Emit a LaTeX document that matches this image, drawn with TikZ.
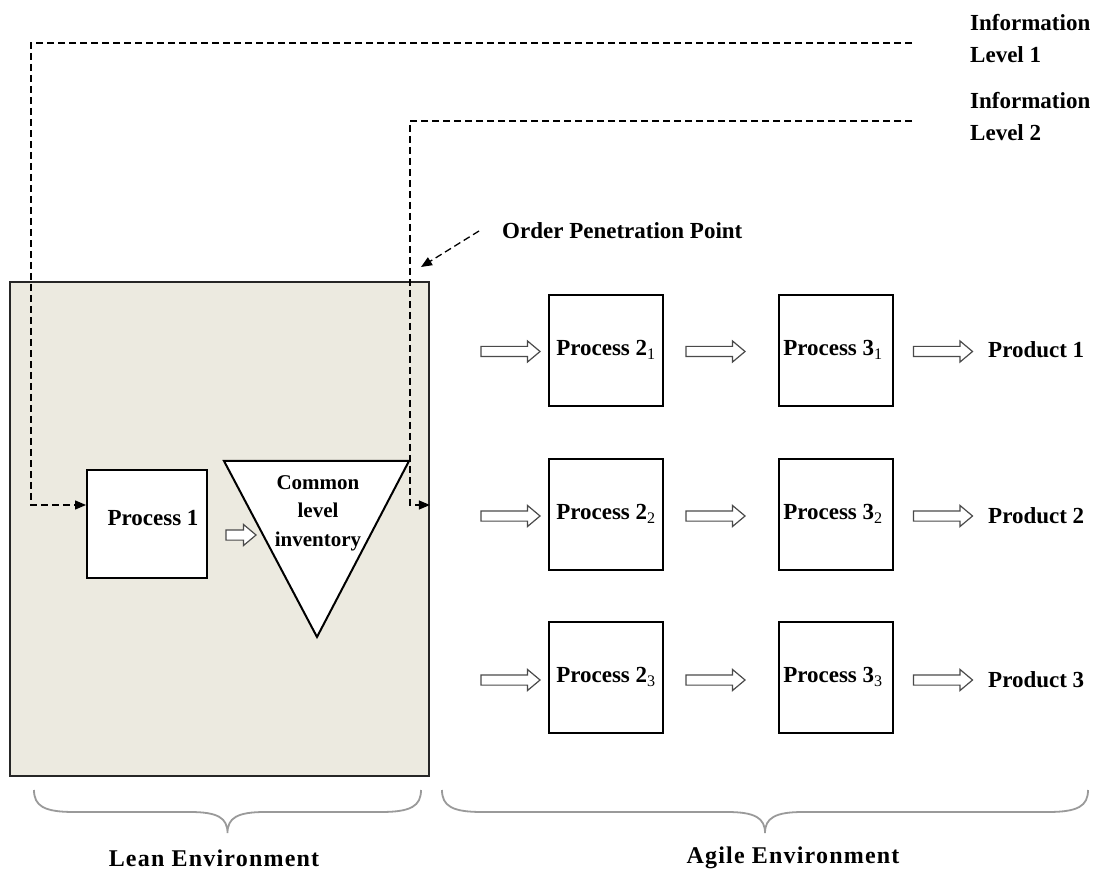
\documentclass[tikz,border=0pt]{standalone}
\usepackage{fontspec}
\setmainfont{Liberation Serif}
\newfontfamily\envfamily[LetterSpace=5]{Liberation Serif}
\usetikzlibrary{shapes.arrows,arrows.meta,calc}
\definecolor{leanfill}{HTML}{ECEAE0}
\definecolor{bracegray}{HTML}{9A9A9A}
\definecolor{arrowgray}{HTML}{4A4A4A}
\newcommand{\lblfont}{\fontsize{23}{32}\selectfont\bfseries}
\newcommand{\invfont}{\fontsize{21}{28.5}\selectfont\bfseries}
\newcommand{\envfont}{\envfamily\fontsize{24}{28}\selectfont\bfseries}
\newcommand{\sbs}[1]{\textsubscript{\mdseries #1}}
\tikzset{
  leanbox/.style={draw=black!85, fill=leanfill, line width=1.8pt, minimum width=419pt, minimum height=494pt, inner sep=0pt},
  procbox/.style={draw=black, fill=white, line width=2pt, minimum width=114pt, minimum height=111pt, inner sep=0pt, font=\lblfont},
  txt/.style={font=\lblfont, inner sep=2pt, align=left},
  infoline/.style={draw=black, line width=1.3pt, dash pattern=on 7pt off 4pt, -{Triangle[length=11pt,width=9pt]}},
  blockarrow/.style={single arrow, draw=arrowgray, fill=white, line width=1.2pt, inner xsep=0pt, inner ysep=4.5pt, single arrow head extend=5.5pt, single arrow tip angle=80, minimum height=59pt},
  bracestyle/.style={draw=bracegray, line width=1.8pt},
  tri/.style={draw=black, fill=white, line width=2pt, line join=miter}
}
\begin{document}
\begin{tikzpicture}[x=1pt,y=-1pt]
\useasboundingbox (0,0) rectangle (1101,874);

% lean environment box
\node[leanbox] (lean) at (219.5,529) {};

% information labels and free ends of the information lines
\node[txt, anchor=west] (info1) at (968,39) {Information\\Level 1};
\node[txt, anchor=west] (info2) at (968,117) {Information\\Level 2};
\coordinate (i1) at (912,43);
\coordinate (i2) at (912,121);

% process 1
\node[procbox, minimum width=120pt, minimum height=108pt] (p1) at (147,524) {\raisebox{12pt}{\hspace{12pt}Process 1}};

% common level inventory (triangle)
\draw[tri] (224,461) coordinate (t1) -- (409,461) coordinate (t2) -- (317,637) coordinate (t3) -- cycle;
\node[font=\invfont, align=center, inner sep=0pt] (inv) at (318,513) {Common\\level\\inventory};

% hollow arrow process 1 -> inventory
\node[blockarrow, minimum height=30pt] (a0) at (238,535) {};

% information lines
\draw[infoline] (i1) -- (31,43) |- ([yshift=19pt]p1.west);
\draw[infoline] (i2) -- (410,121) |- ([yshift=24pt]lean.east);

% order penetration point
\node[txt, anchor=west] (opp) at (500,231) {Order Penetration Point};
\coordinate (oppt) at (421,267);
\draw[infoline] ([xshift=-21pt]opp.west) -- (oppt);

% agile processes
\node[procbox] (p21) at (606,350.5) {\raisebox{5pt}{Process 2\sbs{1}}};
\node[procbox] (p22) at (606,514.5) {\raisebox{5pt}{Process 2\sbs{2}}};
\node[procbox] (p23) at (606,677.5) {\raisebox{5pt}{Process 2\sbs{3}}};
\node[procbox] (p31) at (836,350.5) {\raisebox{5pt}{\hspace{-6pt}Process 3\sbs{1}}};
\node[procbox] (p32) at (836,514.5) {\raisebox{5pt}{\hspace{-6pt}Process 3\sbs{2}}};
\node[procbox] (p33) at (836,677.5) {\raisebox{5pt}{\hspace{-6pt}Process 3\sbs{3}}};

% products
\node[txt, anchor=west] (pr1) at (986,350) {Product 1};
\node[txt, anchor=west] (pr2) at (986,516) {Product 2};
\node[txt, anchor=west] (pr3) at (986,680) {Product 3};

% hollow arrows
\node[blockarrow] (a11) at (507.5,351.5) {};
\node[blockarrow] (a12) at (712.5,351.5) {};
\node[blockarrow] (a13) at (940,351.5) {};
\node[blockarrow] (a21) at (507.5,516) {};
\node[blockarrow] (a22) at (712.5,516) {};
\node[blockarrow] (a23) at (940,516) {};
\node[blockarrow] (a31) at (507.5,680) {};
\node[blockarrow] (a32) at (712.5,680) {};
\node[blockarrow] (a33) at (940,680) {};

% braces
\draw[bracestyle] (34,790) .. controls (34,806) and (44,812) .. (74,812) -- (190,812)
  .. controls (218,812) and (227.5,818) .. (227.5,833)
  .. controls (227.5,818) and (237,812) .. (265,812) -- (381,812)
  .. controls (411,812) and (421,806) .. (421,790);
\draw[bracestyle] (442,790) .. controls (442,806) and (452,812) .. (482,812) -- (727,812)
  .. controls (755,812) and (765,818) .. (765,833)
  .. controls (765,818) and (775,812) .. (803,812) -- (1048,812)
  .. controls (1078,812) and (1088,806) .. (1088,790);

% environment labels
\node[font=\envfont, inner sep=0pt] (leanlbl) at (214,858) {Lean Environment};
\node[font=\envfont, inner sep=0pt] (agilelbl) at (793,858) {Agile Environment};
\end{tikzpicture}
\end{document}
